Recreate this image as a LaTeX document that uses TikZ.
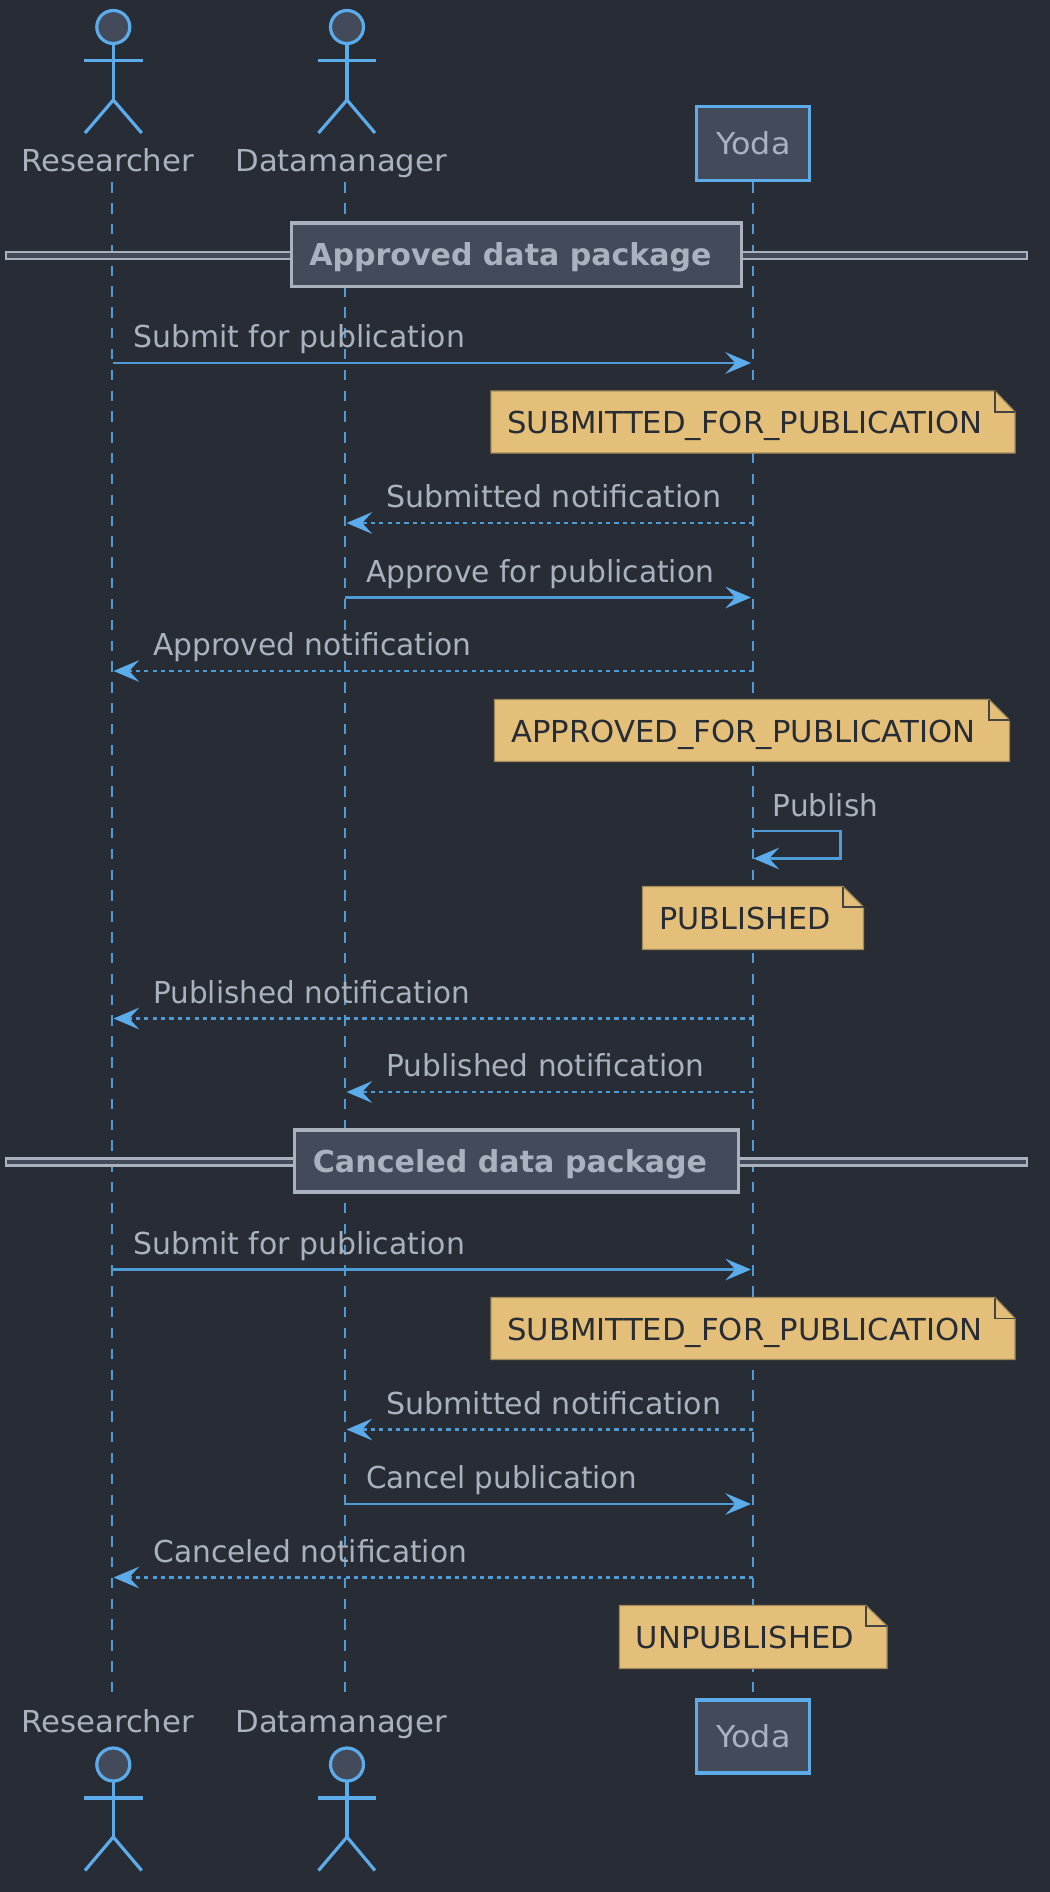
\documentclass[tikz,border=0pt]{standalone}
\usepackage{fontspec}
\setmainfont{DejaVu Sans}
\usetikzlibrary{arrows.meta}
\definecolor{bgcol}{HTML}{282C34}
\definecolor{linecol}{HTML}{5CACEC}
\definecolor{lifecol}{HTML}{4F9BD8}
\definecolor{textcol}{HTML}{ABB2BF}
\definecolor{boxcol}{HTML}{434A5A}
\definecolor{notecol}{HTML}{E3BF7A}
\definecolor{noteline}{HTML}{A08A5C}
\tikzset{
    lifeline/.style={draw=lifecol, line width=.042cm, dash pattern=on .208cm off .20867cm},
    sendmsg/.style={draw=lifecol, line width=.042cm, -{Stealth[length=.514cm, width=.434cm, inset=.2cm, sep=0pt, color=linecol]}},
    replymsg/.style={sendmsg, dash pattern=on .084cm off .084cm},
    msglabel/.style={anchor=base west, inner sep=0, yshift=-.012cm, text=textcol, font=\fontsize{17.2}{20}\selectfont},
    notelabel/.style={msglabel, yshift=0, text=bgcol},
    sectionlabel/.style={msglabel, font=\fontsize{17.2}{20}\selectfont\bfseries},
    headshape/.style={circle, draw=linecol, fill=boxcol, line width=.064cm, inner sep=0, outer sep=0, minimum size=.66cm},
    actorline/.style={draw=linecol, line width=.064cm},
    yodabox/.style={draw=linecol, fill=boxcol, line width=.064cm},
    sectionbox/.style={draw=textcol, fill=boxcol, line width=.07cm},
    sectionrule/.style={draw=textcol, fill=boxcol, line width=.046cm},
    notebody/.style={draw=noteline, fill=notecol, line width=.024cm},
    notefold/.style={draw=bgcol!75!noteline, line width=.03cm}
}
\begin{document}
\begin{tikzpicture}[x=.02cm, y=-.02cm]
    \fill[bgcol] (0, 0) rectangle (1050, 1892);
    \useasboundingbox (0, 0) rectangle (1050, 1892);

    % lifelines
    \coordinate (restop) at (112.3, 182.3);
    \coordinate (resend) at (112.3, 1692.7);
    \coordinate (dattop) at (345, 182.3);
    \coordinate (datend) at (345, 1692.7);
    \coordinate (yodtop) at (753.3, 182.3);
    \coordinate (yodend) at (753.3, 1692.7);
    \draw[lifeline] (restop) to (resend);
    \draw[lifeline] (dattop) to (datend);
    \draw[lifeline] (yodtop) to (yodend);

    % actors on top
    \node[headshape] (reshead) at (113.3, 27) {};
    \coordinate (reship) at (113.3, 100);
    \coordinate (resarml) at (84.3, 60.3);
    \coordinate (resarmr) at (142.7, 60.3);
    \coordinate (reslegl) at (85, 133);
    \coordinate (reslegr) at (141.7, 133);
    \draw[actorline] (reshead) to (reship);
    \draw[actorline] (resarml) to (resarmr);
    \draw[actorline] (reslegl) to (reship) to (reslegr);
    \node[msglabel, xscale=1.018] (reslabel) at (21, 170.5) {Researcher};

    \node[headshape] (dathead) at (347, 27) {};
    \coordinate (dathip) at (347, 100);
    \coordinate (datarml) at (317.5, 60.3);
    \coordinate (datarmr) at (376, 60.3);
    \coordinate (datlegl) at (318.5, 133);
    \coordinate (datlegr) at (375, 133);
    \draw[actorline] (dathead) to (dathip);
    \draw[actorline] (datarml) to (datarmr);
    \draw[actorline] (datlegl) to (dathip) to (datlegr);
    \node[msglabel, xscale=1.017] (datlabel) at (235, 170.5) {Datamanager};

    \draw[yodabox] (696.5, 106.5) rectangle (809.5, 180.2);
    \node[msglabel, xscale=1.05] (yodlabel) at (716, 154) {Yoda};

    % approved section
    \draw[sectionrule] (6, 252) rectangle (1027, 259);
    \draw[sectionbox] (291.5, 223) rectangle (741.5, 286.3);
    \node[sectionlabel, xscale=.994] (approved) at (309, 265) {Approved data package};

    \coordinate (a1from) at (113, 363);
    \coordinate (a1to) at (751, 363);
    \draw[sendmsg] (a1from) to (a1to);
    \node[msglabel, xscale=.989] (a1label) at (133, 347) {Submit for publication};

    \draw[notebody] (491, 391) -- (995, 391) -- (1015, 412) -- (1015, 453) -- (491, 453) -- cycle;
    \draw[notefold] (995, 391) -- (995, 412) -- (1015, 412);
    \node[notelabel, xscale=1.0155] (a1note) at (507, 433) {SUBMITTED\_FOR\_PUBLICATION};

    \coordinate (a2from) at (753, 523);
    \coordinate (a2to) at (346.5, 523);
    \draw[replymsg] (a2from) to (a2to);
    \node[msglabel, xscale=.995] (a2label) at (386, 507) {Submitted notification};

    \coordinate (a3from) at (345, 597.5);
    \coordinate (a3to) at (751, 597.5);
    \draw[sendmsg] (a3from) to (a3to);
    \node[msglabel, xscale=.983] (a3label) at (366, 581.5) {Approve for publication};

    \coordinate (a4from) at (753, 671);
    \coordinate (a4to) at (113.5, 671);
    \draw[replymsg] (a4from) to (a4to);
    \node[msglabel, xscale=.981] (a4label) at (153, 655) {Approved notification};

    \draw[notebody] (494.5, 699.5) -- (989, 699.5) -- (1009.5, 720) -- (1009.5, 761.5) -- (494.5, 761.5) -- cycle;
    \draw[notefold] (989, 699.5) -- (989, 720) -- (1009.5, 720);
    \node[notelabel, xscale=1.016] (a4note) at (511, 741.5) {APPROVED\_FOR\_PUBLICATION};

    \coordinate (selffrom) at (753, 831);
    \coordinate (selfto) at (753.5, 858.5);
    \draw[sendmsg] (selffrom) -- (840.5, 831) -- (840.5, 858.5) -- (selfto);
    \node[msglabel, xscale=.977] (selflabel) at (772.5, 815.5) {Publish};

    \draw[notebody] (642.5, 886.5) -- (843, 886.5) -- (863.5, 907) -- (863.5, 949.5) -- (642.5, 949.5) -- cycle;
    \draw[notefold] (843, 886.5) -- (843, 907) -- (863.5, 907);
    \node[notelabel] (selfnote) at (659, 929) {PUBLISHED};

    \coordinate (a5from) at (753, 1018.5);
    \coordinate (a5to) at (113.5, 1018.5);
    \draw[replymsg] (a5from) to (a5to);
    \node[msglabel, xscale=.974] (a5label) at (153, 1002.5) {Published notification};

    \coordinate (a6from) at (753, 1092);
    \coordinate (a6to) at (346.5, 1092);
    \draw[replymsg] (a6from) to (a6to);
    \node[msglabel, xscale=.978] (a6label) at (386, 1076) {Published notification};

    % canceled section
    \draw[sectionrule] (6, 1158.5) rectangle (1027, 1165.5);
    \draw[sectionbox] (294.5, 1129.8) rectangle (738.5, 1192);
    \node[sectionlabel, xscale=.997] (canceled) at (312.5, 1171.5) {Canceled data package};

    \coordinate (c1from) at (113, 1269.5);
    \coordinate (c1to) at (751, 1269.5);
    \draw[sendmsg] (c1from) to (c1to);
    \node[msglabel, xscale=.989] (c1label) at (133, 1253.5) {Submit for publication};

    \draw[notebody] (491, 1297.5) -- (995, 1297.5) -- (1015, 1318.5) -- (1015, 1359.5) -- (491, 1359.5) -- cycle;
    \draw[notefold] (995, 1297.5) -- (995, 1318.5) -- (1015, 1318.5);
    \node[notelabel, xscale=1.0155] (c1note) at (507, 1339.5) {SUBMITTED\_FOR\_PUBLICATION};

    \coordinate (c2from) at (753, 1429.5);
    \coordinate (c2to) at (346.5, 1429.5);
    \draw[replymsg] (c2from) to (c2to);
    \node[msglabel, xscale=.995] (c2label) at (386, 1413.5) {Submitted notification};

    \coordinate (c3from) at (345, 1504);
    \coordinate (c3to) at (751, 1504);
    \draw[sendmsg] (c3from) to (c3to);
    \node[msglabel, xscale=.97] (c3label) at (366, 1488) {Cancel publication};

    \coordinate (c4from) at (753, 1577.5);
    \coordinate (c4to) at (113.5, 1577.5);
    \draw[replymsg] (c4from) to (c4to);
    \node[msglabel, xscale=.981] (c4label) at (153, 1561.5) {Canceled notification};

    \draw[notebody] (619.5, 1605.5) -- (866, 1605.5) -- (887, 1626) -- (887, 1668.5) -- (619.5, 1668.5) -- cycle;
    \draw[notefold] (866, 1605.5) -- (866, 1626) -- (887, 1626);
    \node[notelabel, xscale=1.011] (c4note) at (635.5, 1647.5) {UNPUBLISHED};

    % actors at the bottom
    \node[msglabel, xscale=1.018] (resfoot) at (21, 1731.5) {Researcher};
    \node[headshape] (resheadb) at (113.3, 1764.5) {};
    \coordinate (reshipb) at (113.3, 1837);
    \coordinate (resarmlb) at (84.3, 1798);
    \coordinate (resarmrb) at (142.7, 1798);
    \coordinate (reslegrb) at (141.7, 1870.5);
    \coordinate (resleglb) at (85, 1870.5);
    \draw[actorline] (resheadb) to (reshipb);
    \draw[actorline] (resarmlb) to (resarmrb);
    \draw[actorline] (resleglb) to (reshipb) to (reslegrb);

    \node[msglabel, xscale=1.017] (datfoot) at (235, 1731.5) {Datamanager};
    \node[headshape] (datheadb) at (347, 1764.5) {};
    \coordinate (dathipb) at (347, 1837);
    \coordinate (datarmlb) at (317.5, 1798);
    \coordinate (datarmrb) at (376, 1798);
    \coordinate (datlegrb) at (375, 1870.5);
    \coordinate (datleglb) at (318.5, 1870.5);
    \draw[actorline] (datheadb) to (dathipb);
    \draw[actorline] (datarmlb) to (datarmrb);
    \draw[actorline] (datleglb) to (dathipb) to (datlegrb);

    \draw[yodabox] (696.5, 1700) rectangle (809.5, 1773);
    \node[msglabel, xscale=1.05] (yodfoot) at (716, 1746.5) {Yoda};
\end{tikzpicture}
\end{document}
